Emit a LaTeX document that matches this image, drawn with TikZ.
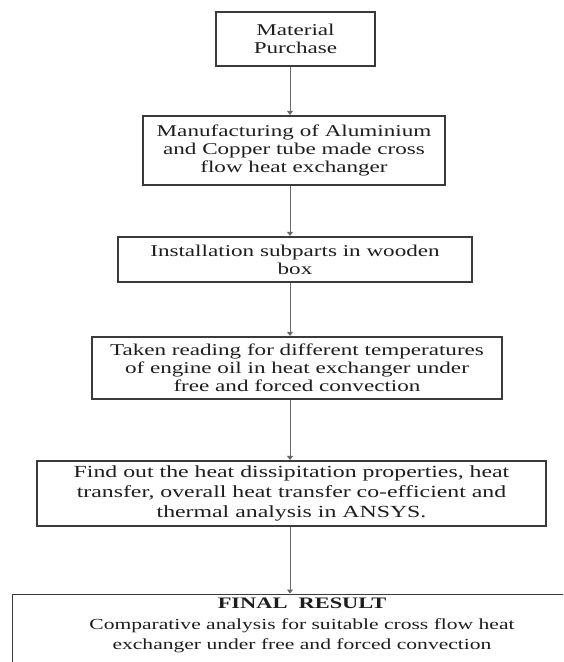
\documentclass[tikz,border=0pt]{standalone}
\usepackage{fontspec}
\setmainfont{Liberation Serif}[FakeStretch=1.4]
\usetikzlibrary{arrows.meta}
\definecolor{boxline}{HTML}{3A3A3A}
\definecolor{arrline}{HTML}{6A6A6A}
\definecolor{txt}{HTML}{1E1E1E}
\tikzset{
  stepbox/.style={draw=boxline, line width=1.1pt, fill=white, align=center,
    text=txt, inner sep=0pt, font=\fontsize{16.5}{18}\selectfont},
  conn/.style={draw=arrline, line width=0.9pt,
    -{Triangle[length=4pt,width=6pt]}, shorten >=0.5pt},
}
\begin{document}
\begin{tikzpicture}[x=1pt,y=-1pt]
\useasboundingbox (0,0) rectangle (563,662);
\clip (0,0) rectangle (563,662);
\fill[white] (0,0) rectangle (563,662);
\coordinate (ax) at (290,0);
\node[stepbox, minimum width=159pt, minimum height=54pt] (b1) at (295.5,39)
  {Material\\Purchase};
\node[stepbox, minimum width=302pt, minimum height=69pt] (b2) at (294,150.5)
  {Manufacturing of Aluminium\\and Copper tube made cross\\flow heat exchanger};
\node[stepbox, minimum width=354pt, minimum height=45pt] (b3) at (295,259.5)
  {Installation subparts in wooden\\box};
\node[stepbox, minimum width=410pt, minimum height=62pt] (b4) at (297,368)
  {Taken reading for different temperatures\\of engine oil in heat exchanger under\\free and forced convection};
\node[stepbox, minimum width=509pt, minimum height=65pt,
  font=\fontsize{17}{20}\selectfont] (b5) at (291.5,493.5)
  {Find out the heat dissipitation properties, heat\\transfer, overall heat transfer co-efficient and\\thermal analysis in ANSYS.};
\node[stepbox, anchor=north west, minimum width=580pt, minimum height=100pt] (b6) at (12,594) {};
\node[align=center, text=txt, inner sep=0pt, anchor=north,
  font=\fontsize{15.4}{20.5}\selectfont] (b6t) at (302,598)
  {{\fontsize{16}{20.5}\selectfont\bfseries FINAL\ \ RESULT}\\Comparative analysis for suitable cross flow heat\\exchanger under free and forced convection};
\draw[conn] (b1.south -| ax) -- (b2.north -| ax);
\draw[conn] (b2.south -| ax) -- (b3.north -| ax);
\draw[conn] (b3.south -| ax) -- (b4.north -| ax);
\draw[conn] (b4.south -| ax) -- (b5.north -| ax);
\draw[conn] (b5.south -| ax) -- (b6.north -| ax);
\end{tikzpicture}
\end{document}
